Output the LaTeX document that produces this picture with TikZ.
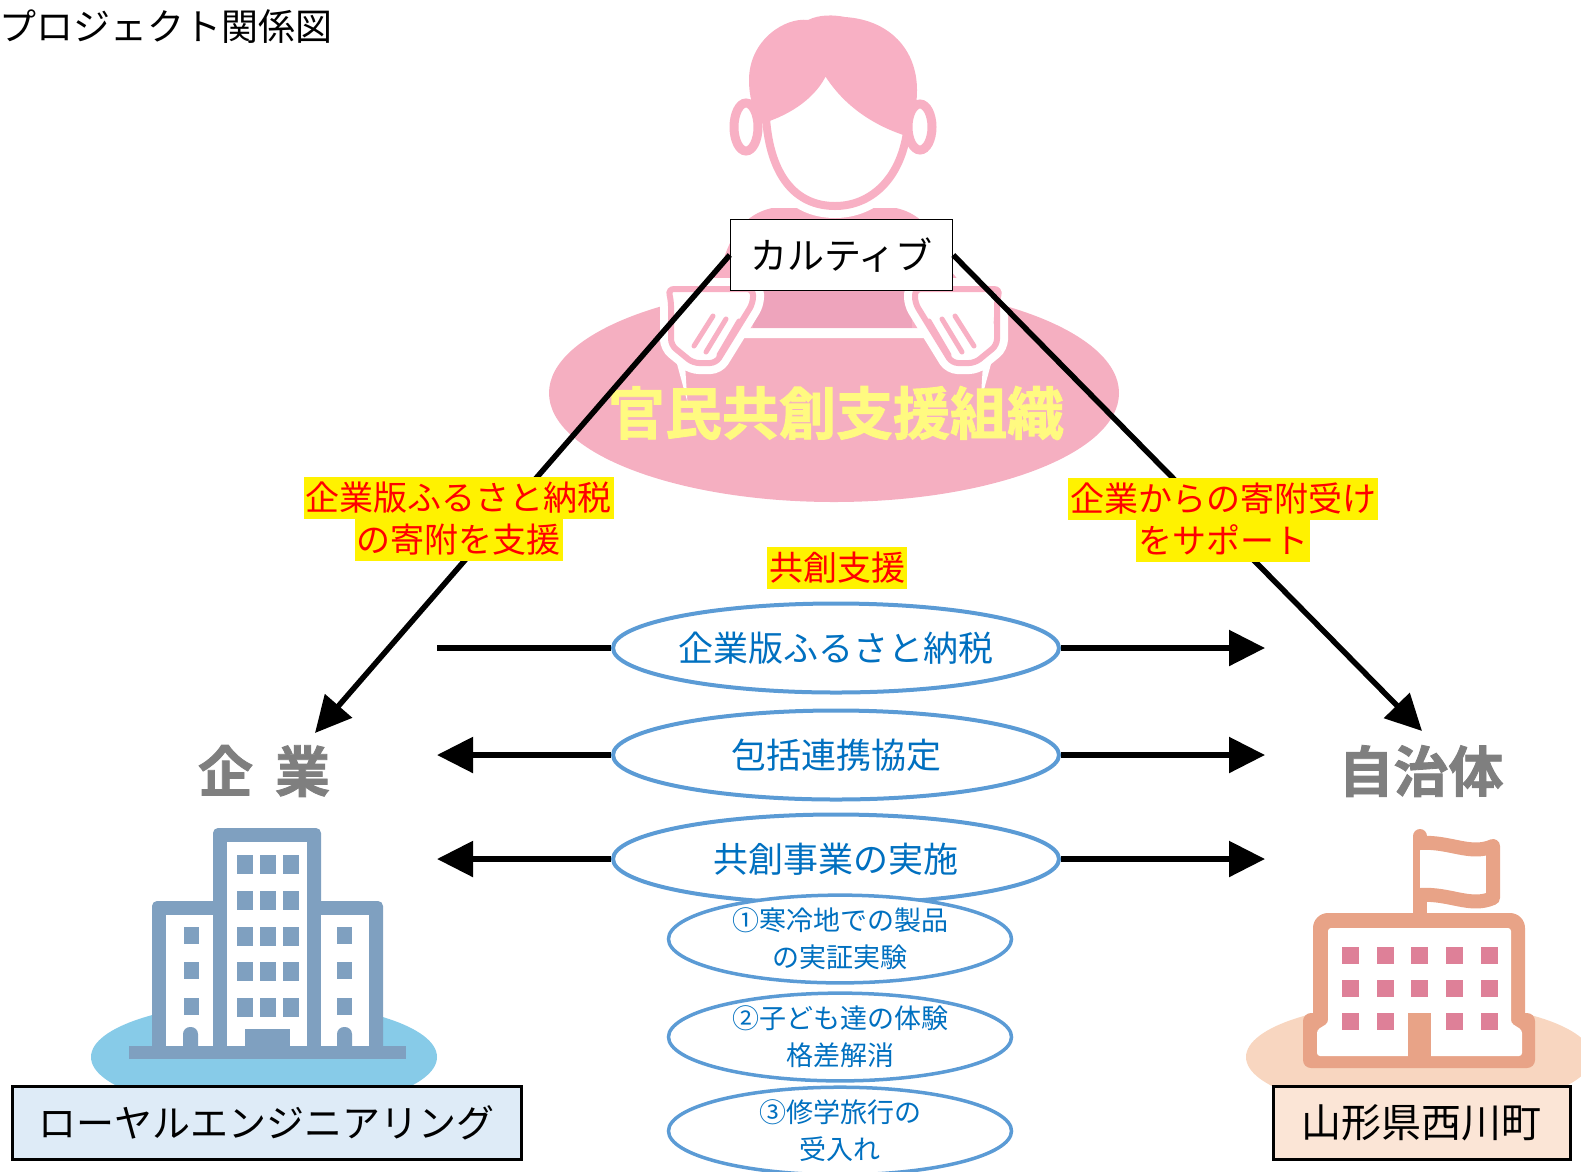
\documentclass[tikz,border=0pt]{standalone}
\usepackage{fontspec}
\setmainfont{Noto Sans CJK JP}[BoldFont={Noto Sans CJK JP Bold}]
\newfontfamily\heavyfont{Noto Sans CJK JP Bold}[FakeBold=1.5]
\usetikzlibrary{arrows.meta,shapes.geometric}

\definecolor{hairpink}{RGB}{248,176,196}
\definecolor{bodypink}{RGB}{238,164,188}
\definecolor{ovalpink}{RGB}{245,175,193}
\definecolor{orgyellow}{RGB}{255,250,128}
\definecolor{ovalblue}{RGB}{91,155,213}
\definecolor{textblue}{RGB}{0,112,192}
\definecolor{bldgblue}{RGB}{127,160,192}
\definecolor{groundblue}{RGB}{135,203,232}
\definecolor{boxblue}{RGB}{222,235,247}
\definecolor{schoolorange}{RGB}{232,163,135}
\definecolor{windowpink}{RGB}{222,128,152}
\definecolor{groundpeach}{RGB}{248,214,192}
\definecolor{boxpeach}{RGB}{251,229,214}
\definecolor{labelgray}{RGB}{127,127,127}

\setlength{\fboxsep}{0pt}
\newcommand{\marker}[1]{\colorbox{yellow}{\rule[-9pt]{0pt}{42pt}\hspace{2pt}#1\hspace{2pt}}}

\begin{document}
\begin{tikzpicture}[x=1pt,y=-1pt,every node/.style={inner sep=0pt},
  bigoval/.style={ellipse,draw=ovalblue,line width=4pt,fill=white,minimum width=446pt,minimum height=89pt,text=textblue,font=\fontsize{35}{40}\selectfont},
  smalloval/.style={ellipse,draw=ovalblue,line width=3.5pt,fill=white,minimum width=343pt,minimum height=86pt,text=textblue,align=center,font=\fontsize{27}{37}\selectfont},
  flow/.style={line width=5.5pt,-{Triangle[length=36pt,width=35pt]}},
  note/.style={text=red,align=center,font=\fontsize{34}{42}\selectfont},
  namebox/.style={draw,line width=3pt,minimum height=73pt,font=\fontsize{38}{44}\selectfont},
  side/.style={text=labelgray,font=\fontsize{55}{60}\heavyfont}]
\useasboundingbox (0,0) rectangle (1581,1171);

\node[anchor=west,font=\fontsize{37}{40}\selectfont] (title) at (-1,27) {プロジェクト関係図};

% support organisation
\fill[ovalpink] (834,393) ellipse (285 and 109);
\fill[hairpink,preaction={draw=white,line width=20pt}] (772,208) .. controls (745,214) and (730,235) .. (722,265) -- (700,292) -- (700,328) -- (968,328) -- (968,292) -- (946,265) .. controls (938,235) and (923,214) .. (896,208) -- cycle;
\fill[bodypink] (753,291) rectangle (912,328);
\draw[white,line width=24pt] (766,118) .. controls (770,175) and (795,206) .. (835,206) .. controls (870,206) and (900,180) .. (907,132);
\fill[hairpink] (762,123) .. controls (752,110) and (749,95) .. (749,80) .. controls (749,40) and (785,17) .. (808,20) .. controls (820,14) and (835,15) .. (845,17) .. controls (890,20) and (917,50) .. (917,90) .. controls (917,110) and (912,125) .. (905,135) -- cycle;
\draw[hairpink,line width=9pt,fill=white] (746,127) ellipse (12 and 24);
\draw[hairpink,line width=9pt,fill=white] (920,127) ellipse (12 and 23);
\draw[hairpink,line width=8pt,fill=white] (766,118) .. controls (795,108) and (817,90) .. (825,68) .. controls (842,98) and (870,120) .. (907,132) .. controls (900,180) and (870,206) .. (835,206) .. controls (795,206) and (770,175) .. (766,118) -- cycle;
\foreach \s/\o in {1/0,-1/1668}{
  \begin{scope}[shift={(\o,0)},xscale=\s]
    \filldraw[fill=white,draw=hairpink,line width=6pt,rounded corners=6pt,preaction={draw=white,line width=22pt}] (668,289) -- (753,289) -- (753,303) -- (716,363) -- (693,363) -- (671,345) -- (671,300) -- cycle;
    \draw[hairpink,line width=5pt,line cap=round] (713,316) -- (694,346) (726,319) -- (706,352) (739,321) -- (719,355);
  \end{scope}
}
\node[text=orgyellow,font=\fontsize{57}{60}\heavyfont] (org) at (836,413) {官民共創支援組織};

\node[draw,line width=1.5pt,fill=white,minimum width=222pt,minimum height=71pt,font=\fontsize{37}{40}\selectfont] (kal) at (841.5,255) {カルティブ};
\coordinate (tipL) at (315,733);
\coordinate (tipR) at (1422,731);
\draw[flow] (kal.west) -- (tipL);
\draw[flow] (kal.east) -- (tipR);

% company side
\fill[groundblue] (264,1057) ellipse (173 and 55);
\fill[bldgblue,rounded corners=5pt] (213,828) rectangle (321,1052);
\fill[bldgblue,rounded corners=5pt] (152,901) rectangle (383,1052);
\fill[white] (227,842) rectangle (307,1047);
\fill[white] (166,915) rectangle (213,1047);
\fill[white] (321,915) rectangle (369,1047);
\fill[bldgblue] (129,1046) rectangle (406,1059);
\foreach \wy in {855,891,927,962,998}{
  \foreach \wx in {237,260,283}
    \fill[bldgblue] (\wx,\wy) rectangle ++(16,19);
}
\foreach \wy in {927,962,998}{
  \fill[bldgblue] (184,\wy) rectangle ++(15,17);
  \fill[bldgblue] (337,\wy) rectangle ++(15,17);
}
\fill[bldgblue,rounded corners=7pt] (183,1047) -- (183,1027) -- (198,1027) -- (198,1047);
\fill[bldgblue,rounded corners=7pt] (337,1047) -- (337,1027) -- (352,1027) -- (352,1047);
\fill[bldgblue] (245,1029) rectangle (290,1047);
\node[namebox,fill=boxblue,minimum width=509pt] (roy) at (266.5,1122.5) {ローヤルエンジニアリング};
\node[side] (kigyo) at (264,771) {企\hspace{22pt}業};

% town side
\fill[groundpeach] (1419,1057) ellipse (173 and 55);
\draw[schoolorange,line width=14pt,line cap=round] (1420,913) -- (1420,836);
\draw[schoolorange,line width=14pt,line join=round,fill=white] (1420,843) .. controls (1450,841) and (1470,856) .. (1493,846) -- (1493,898) .. controls (1470,908) and (1450,893) .. (1420,895);
\fill[schoolorange,rounded corners=15pt] (1313,913) rectangle (1525,1040);
\fill[schoolorange,rounded corners=8pt] (1303,1013) rectangle (1535,1068);
\fill[white,rounded corners=3pt] (1328,928) -- (1511,928) -- (1511,1023) -- (1522,1030) -- (1522,1056) -- (1317,1056) -- (1317,1030) -- (1328,1023) -- cycle;
\foreach \wx in {1342,1377,1411,1446,1481}{
  \fill[windowpink] (\wx,947) rectangle ++(17,17);
  \fill[windowpink] (\wx,980) rectangle ++(17,17);
}
\foreach \wx in {1342,1377,1446,1481}
  \fill[windowpink] (\wx,1013) rectangle ++(17,17);
\fill[schoolorange] (1408,1013) rectangle (1431,1058);
\node[namebox,fill=boxpeach,minimum width=297pt,font=\fontsize{40}{44}\selectfont] (yama) at (1421.5,1122.5) {山形県西川町};
\node[side] (jichitai) at (1421,771) {自治体};

% joint projects
\node[bigoval] (e1) at (836,648) {企業版ふるさと納税};
\node[bigoval] (e2) at (836,755) {包括連携協定};
\node[bigoval] (e3) at (836,859) {共創事業の実施};
\node[smalloval] (s1) at (840,939) {①寒冷地での製品\\の実証実験};
\node[smalloval] (s2) at (840,1037) {②子ども達の体験\\格差解消};
\node[smalloval] (s3) at (840,1131) {③修学旅行の\\受入れ};

\coordinate (l1) at (437,648);
\coordinate (r1) at (1265,648);
\coordinate (l2) at (437,755);
\coordinate (r2) at (1265,755);
\coordinate (l3) at (437,859);
\coordinate (r3) at (1265,859);
\draw[line width=5.5pt] (e1.west) -- (l1);
\draw[flow] (e1.east) -- (r1);
\draw[flow] (e2.west) -- (l2);
\draw[flow] (e2.east) -- (r2);
\draw[flow] (e3.west) -- (l3);
\draw[flow] (e3.east) -- (r3);

\node[note] (noteL) at (458.5,519) {\marker{企業版ふるさと納税}\\\marker{の寄附を支援}};
\node[note] (noteR) at (1223,520) {\marker{企業からの寄附受け}\\\marker{をサポート}};
\node[note] (noteC) at (837,568) {\marker{共創支援}};
\end{tikzpicture}
\end{document}
